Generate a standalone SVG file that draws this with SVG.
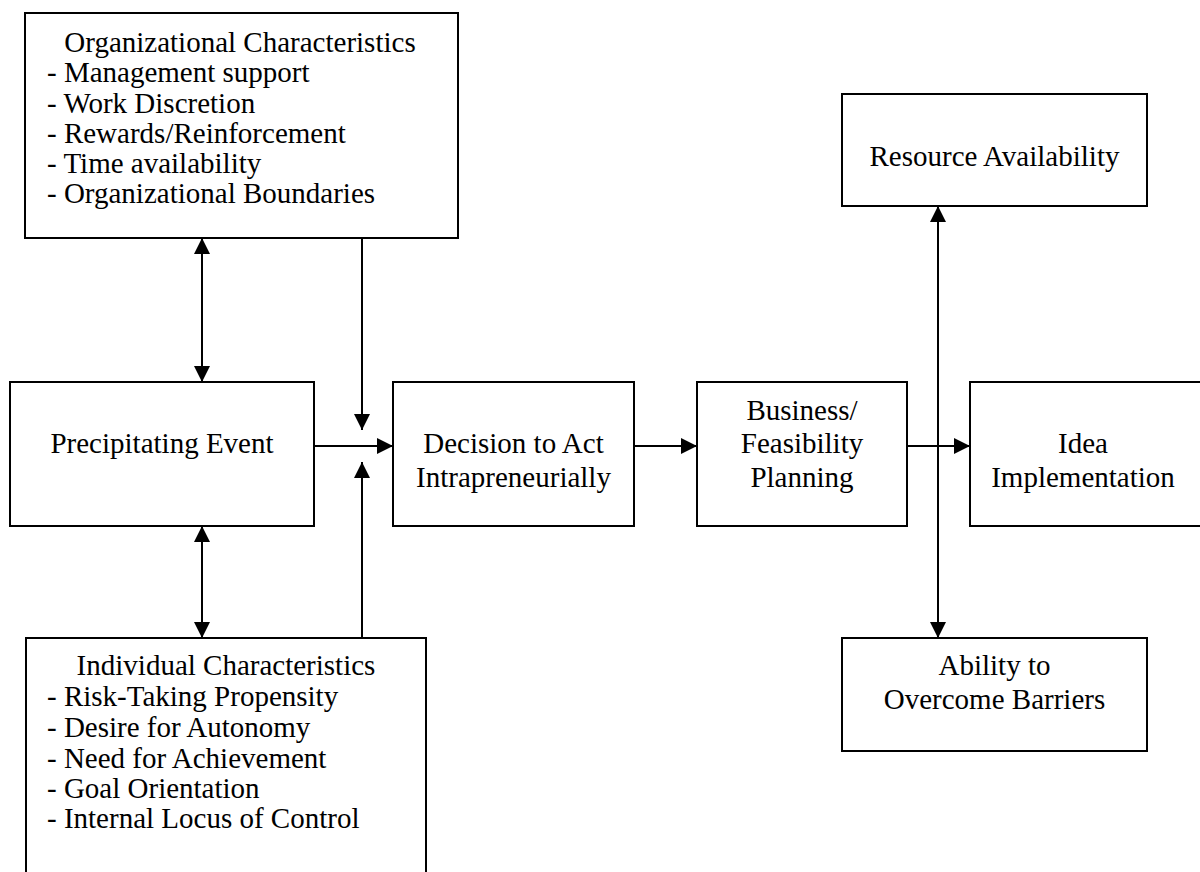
<svg xmlns="http://www.w3.org/2000/svg" width="1200" height="872" viewBox="0 0 1200 872">
  <style>
    .box { fill: #ffffff; stroke: #000000; stroke-width: 2; }
    .lbl { font-family: "Liberation Serif", "Times New Roman", serif; font-size: 29px; fill: #000000; }
    .mid { text-anchor: middle; }
    .line { stroke: #000000; stroke-width: 2; fill: none; }
  </style>
  <defs>
    <marker id="arrow" viewBox="0 0 16 16" refX="16" refY="8" markerWidth="16" markerHeight="16" markerUnits="userSpaceOnUse" orient="auto-start-reverse">
      <path d="M0,0 L16,8 L0,16 Z" fill="#000000"/>
    </marker>
  </defs>
  <rect width="1200" height="872" fill="#ffffff"/>

  <g id="connectors">
    <!-- organizational <-> precipitating -->
    <line class="line" x1="202" y1="238" x2="202" y2="382" marker-start="url(#arrow)" marker-end="url(#arrow)"/>
    <!-- precipitating <-> individual -->
    <line class="line" x1="202" y1="526" x2="202" y2="638" marker-start="url(#arrow)" marker-end="url(#arrow)"/>
    <!-- organizational down into the decision flow -->
    <line class="line" x1="362" y1="238" x2="362" y2="430" marker-end="url(#arrow)"/>
    <!-- individual up into the decision flow -->
    <line class="line" x1="362" y1="638" x2="362" y2="462" marker-end="url(#arrow)"/>
    <!-- precipitating -> decision -->
    <line class="line" x1="314" y1="446" x2="393" y2="446" marker-end="url(#arrow)"/>
    <!-- decision -> planning -->
    <line class="line" x1="634" y1="446" x2="697" y2="446" marker-end="url(#arrow)"/>
    <!-- planning -> implementation -->
    <line class="line" x1="907" y1="446" x2="970" y2="446" marker-end="url(#arrow)"/>
    <!-- resources <-> barriers -->
    <line class="line" x1="938" y1="206" x2="938" y2="638" marker-start="url(#arrow)" marker-end="url(#arrow)"/>
  </g>

  <g id="org-characteristics">
    <rect class="box" x="25" y="13" width="433" height="225"/>
    <text class="lbl mid" x="240" y="52">Organizational Characteristics</text>
    <text class="lbl" x="47" y="82">- Management support</text>
    <text class="lbl" x="47" y="113">- Work Discretion</text>
    <text class="lbl" x="47" y="143">- Rewards/Reinforcement</text>
    <text class="lbl" x="47" y="173">- Time availability</text>
    <text class="lbl" x="47" y="203">- Organizational Boundaries</text>
  </g>

  <g id="precipitating-event">
    <rect class="box" x="10" y="382" width="304" height="144"/>
    <text class="lbl mid" x="162" y="453">Precipitating Event</text>
  </g>

  <g id="individual-characteristics">
    <rect class="box" x="26" y="638" width="400" height="250"/>
    <text class="lbl mid" x="226" y="675">Individual Characteristics</text>
    <text class="lbl" x="47" y="706">- Risk-Taking Propensity</text>
    <text class="lbl" x="47" y="737">- Desire for Autonomy</text>
    <text class="lbl" x="47" y="768">- Need for Achievement</text>
    <text class="lbl" x="47" y="798">- Goal Orientation</text>
    <text class="lbl" x="47" y="828">- Internal Locus of Control</text>
  </g>

  <g id="decision">
    <rect class="box" x="393" y="382" width="241" height="144"/>
    <text class="lbl mid" x="513.5" y="453">Decision to Act</text>
    <text class="lbl mid" x="513.5" y="487">Intrapreneurially</text>
  </g>

  <g id="planning">
    <rect class="box" x="697" y="382" width="210" height="144"/>
    <text class="lbl mid" x="802" y="420">Business/</text>
    <text class="lbl mid" x="802" y="453">Feasibility</text>
    <text class="lbl mid" x="802" y="487">Planning</text>
  </g>

  <g id="implementation">
    <rect class="box" x="970" y="382" width="250" height="144"/>
    <text class="lbl mid" x="1083" y="453">Idea</text>
    <text class="lbl mid" x="1083" y="487">Implementation</text>
  </g>

  <g id="resources">
    <rect class="box" x="842" y="94" width="305" height="112"/>
    <text class="lbl mid" x="994.5" y="166">Resource Availability</text>
  </g>

  <g id="barriers">
    <rect class="box" x="842" y="638" width="305" height="113"/>
    <text class="lbl mid" x="994.5" y="675">Ability to</text>
    <text class="lbl mid" x="994.5" y="709">Overcome Barriers</text>
  </g>
</svg>
